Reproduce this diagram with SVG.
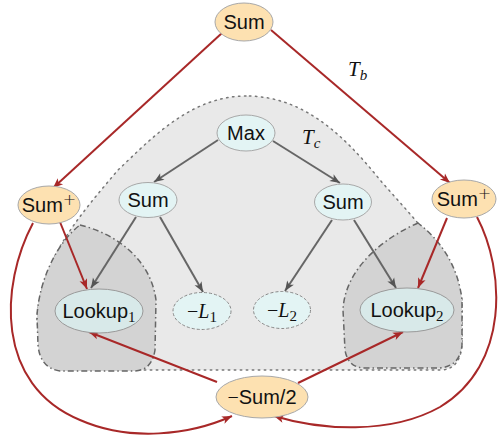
<svg xmlns="http://www.w3.org/2000/svg" width="498" height="438" viewBox="0 0 498 438">
<style>
.txt{font-family:"Liberation Sans","DejaVu Sans",sans-serif;font-size:20px;fill:#111;text-anchor:middle}
.math{font-family:"Liberation Serif","DejaVu Serif",serif;font-style:italic}
.num{font-family:"Liberation Serif","DejaVu Serif",serif;font-style:normal;font-size:15px}
.sub{font-family:"Liberation Serif","DejaVu Serif",serif;font-style:italic;font-size:15px}
.sup{font-family:"DejaVu Sans",sans-serif;font-weight:200;font-size:16px}
.orange{fill:#fde1b1;stroke:#a8a8a8;stroke-width:1}
.cyan{fill:#e3f4f4;stroke:#a8a8a8;stroke-width:1}
.look{fill:#d8e9e9;stroke:#9a9a9a;stroke-width:1}
.leaf{fill:#e3f4f4;stroke:#888;stroke-width:1;stroke-dasharray:3,2}
.red{fill:none;stroke:#a82828;stroke-width:2;marker-end:url(#ar)}
.gray{fill:none;stroke:#666;stroke-width:2;marker-end:url(#ag)}
</style>
<defs>
<marker id="ar" markerUnits="userSpaceOnUse" markerWidth="12" markerHeight="10" refX="10" refY="4" orient="auto" overflow="visible">
<path d="M0,0 L10,4 L0,8 L2.5,4 Z" fill="#a82828"/>
</marker>
<marker id="ag" markerUnits="userSpaceOnUse" markerWidth="12" markerHeight="10" refX="10" refY="4" orient="auto" overflow="visible">
<path d="M0,0 L10,4 L0,8 L2.5,4 Z" fill="#555"/>
</marker>
</defs>
<rect width="498" height="438" fill="#fff"/>
<g id="regions">
<path d="M 246 96 C 190 96, 150 140, 118 170 C 80 215, 40 260, 37 320 L 40 345 Q 45 370 70 370 L 440 370 Q 460 370 462 345 L 462 300 C 455 260, 415 220, 380 180 C 340 130, 300 96, 246 96 Z" fill="#e9e9e9" stroke="#777" stroke-width="1.5" stroke-dasharray="1.5,4.5" stroke-linecap="round"/>
<path d="M 80 225 C 110 232, 150 255, 156 300 L 155 350 Q 152 370 135 371 L 60 371 Q 40 368 38 345 L 37 315 C 40 275, 60 240, 80 225 Z" fill="#d3d3d3" stroke="#666" stroke-width="1.5" stroke-dasharray="6,3,1.5,3"/>
<path d="M 418 223 C 390 235, 345 265, 343 310 L 345 350 Q 348 368 365 368 L 440 368 Q 460 366 462 345 L 462 300 C 458 265, 440 240, 418 223 Z" fill="#d3d3d3" stroke="#666" stroke-width="1.5" stroke-dasharray="6,3,1.5,3"/>
</g>
<g id="connectors">
<path class="red" d="M 222 33 L 53 188"/>
<path class="red" d="M 271 30 L 450 183"/>
<path class="gray" d="M 218 140 L 154 182"/>
<path class="gray" d="M 273 141 L 340 183"/>
<path class="gray" d="M 136 217 L 91 288"/>
<path class="gray" d="M 160 217 L 203 292"/>
<path class="gray" d="M 332 220 L 285 291"/>
<path class="gray" d="M 354 220 L 396 288"/>
<path class="red" d="M 60 222 L 87 289"/>
<path class="red" d="M 447 218 L 418 288"/>
<path class="red" d="M 217 382 L 89 332"/>
<path class="red" d="M 298 383 L 403 332"/>
<path class="red" d="M 33 223 C 0 285, -5 385, 80 420 C 130 442, 190 435, 232 416"/>
<path class="red" d="M 477 217 C 505 270, 510 365, 440 407 C 390 435, 320 430, 274 416"/>
</g>
<g id="n-top"><ellipse class="orange" cx="244" cy="22" rx="29" ry="19"/><text class="txt" x="244" y="29">Sum</text></g>
<g id="n-max"><ellipse class="cyan" cx="246" cy="133" rx="29" ry="18"/><text class="txt" x="246" y="140">Max</text></g>
<g id="n-sumL"><ellipse class="cyan" cx="148" cy="200" rx="29" ry="17.5"/><text class="txt" x="148" y="207">Sum</text></g>
<g id="n-sumR"><ellipse class="cyan" cx="343" cy="202" rx="28.5" ry="18"/><text class="txt" x="343" y="209">Sum</text></g>
<g id="n-sumplusL"><ellipse class="orange" cx="49" cy="205" rx="31" ry="19"/><text class="txt" x="49" y="212">Sum<tspan class="sup" dy="-7">+</tspan></text></g>
<g id="n-sumplusR"><ellipse class="orange" cx="464" cy="199" rx="32" ry="19"/><text class="txt" x="464" y="206">Sum<tspan class="sup" dy="-7">+</tspan></text></g>
<g id="n-look1"><ellipse class="look" cx="99" cy="311" rx="44" ry="22"/><text class="txt" x="99" y="318">Lookup<tspan class="num" dy="4">1</tspan></text></g>
<g id="n-L1"><ellipse class="leaf" cx="202" cy="311" rx="29" ry="18.5"/><text class="txt" x="202" y="318"><tspan font-family="Liberation Serif,serif">−</tspan><tspan class="math">L</tspan><tspan class="num" dy="4">1</tspan></text></g>
<g id="n-L2"><ellipse class="leaf" cx="282" cy="310" rx="28.5" ry="18.5"/><text class="txt" x="282" y="317"><tspan font-family="Liberation Serif,serif">−</tspan><tspan class="math">L</tspan><tspan class="num" dy="4">2</tspan></text></g>
<g id="n-look2"><ellipse class="look" cx="407" cy="310" rx="47" ry="22"/><text class="txt" x="407" y="317">Lookup<tspan class="num" dy="4">2</tspan></text></g>
<g id="n-half"><ellipse class="orange" cx="262" cy="397" rx="46" ry="21"/><text class="txt" x="262" y="404"><tspan font-family="Liberation Serif,serif">−</tspan>Sum/2</text></g>
<g id="labels">
<text class="math" x="348" y="76" font-size="21" fill="#111">T<tspan class="sub" dy="4">b</tspan></text>
<text class="math" x="302" y="144" font-size="21" fill="#111">T<tspan class="sub" dy="4">c</tspan></text>
</g>
</svg>
